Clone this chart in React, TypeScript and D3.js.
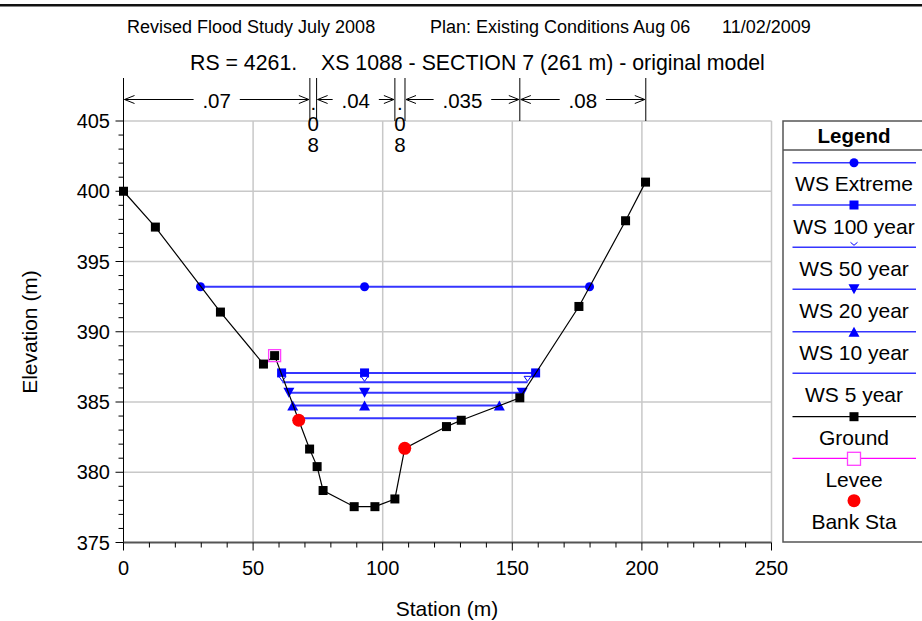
import React from "react";
import * as d3 from "d3";

const groundSta = [0, 12.3, 37.4, 54.0, 58.3, 67.6, 71.8, 74.7, 77.0, 89.0, 97.0, 104.7, 108.5, 124.6, 130.3, 152.9, 175.7, 193.7, 201.4];
const groundElev = [400.0, 397.45, 391.4, 387.7, 388.3, 383.7, 381.65, 380.4, 378.7, 377.55, 377.55, 378.1, 381.7, 383.25, 383.7, 385.3, 391.8, 397.9, 400.65];

const wsNames = ["WS Extreme", "WS 100 year", "WS 50 year", "WS 20 year", "WS 10 year", "WS 5 year"];
const wsElev = [393.2, 387.07, 386.4, 385.65, 384.75, 383.85];
const wsLeft = [29.7, 61.0, 61.3, 63.8, 65.3, 67.6];
const wsRight = [179.8, 159.0, 155.9, 153.8, 145.0, 130.3];
const wsMarker = ["circle", "square", "vopen", "tridown", "triup", "none"];
const wsMidSta = 93.0;

const bankSta = [67.6, 108.5];
const bankElev = [383.7, 381.7];
const leveeSta = [58.3];
const leveeElev = [388.3];

const nBreaks = [0, 71.9, 74.5, 104.7, 108.6, 152.9, 201.5];
const nValues = [".07", ".08", ".04", ".08", ".035", ".08"];

const xTicks = [0, 50, 100, 150, 200, 250];
const yTicks = [375, 380, 385, 390, 395, 400, 405];

const legendLabels = [...wsNames, "Ground", "Levee", "Bank Sta"];

const W = 922, H = 621;
const FONT = "'Liberation Sans', Arial, sans-serif";
const BLUE = "#3535ff";

function Marker({ type, x, y, color }: { type: string; x: number; y: number; color: string }) {
  if (type === "circle") return <circle cx={x} cy={y} r={4.5} fill={color} />;
  if (type === "square") return <rect x={x - 4.5} y={y - 4.5} width={9} height={9} fill={color} />;
  if (type === "tridown") return <path d={`M${x - 5.5},${y - 5} L${x + 5.5},${y - 5} L${x},${y + 5} Z`} fill={color} />;
  if (type === "triup") return <path d={`M${x - 5.5},${y + 5} L${x + 5.5},${y + 5} L${x},${y - 5} Z`} fill={color} />;
  if (type === "vopen") return <path d={`M${x - 3.5},${y - 6} L${x + 3.5},${y - 6} L${x},${y - 1} Z`} fill="white" stroke={color} strokeWidth={1} />;
  return null;
}

export default function App() {
  const x = d3.scaleLinear().domain([0, 250]).range([123.5, 771.5]);
  const y = d3.scaleLinear().domain([375, 405]).range([542.5, 121]);
  const groundLine = d3.line<number>().x((d, i) => x(groundSta[i])).y((d) => y(d));

  const xMinor = d3.range(0, 251, 10);
  const yMinor = d3.range(375, 406, 1);

  const nTop = 78, nArrowY = 99.5, plotTop = y(405);

  const nSegs = nValues.map((v, i) => {
    const x0 = x(nBreaks[i]), x1 = x(nBreaks[i + 1]);
    return { v, x0, x1, w: x1 - x0 };
  });

  const arrowHead = (px: number, py: number, dir: number) =>
    `M${px + dir * 10},${py - 4} L${px},${py} L${px + dir * 10},${py + 4}`;

  const legX0 = 792.5, legX1 = 916, legCx = 854;
  const legLineY = [162.7, 205, 247.3, 289.3, 331.7, 373.3, 416.7, 458.3, 500.7];

  return (
    <svg width={W} height={H} style={{ position: "fixed", left: 0, top: 0, background: "white" }} fontFamily={FONT}>
      <rect x={0} y={0} width={W} height={H} fill="white" />
      <rect x={0} y={4} width={W} height={2.5} fill="#111" />

      {/* Titles */}
      <g fontSize={18} fill="#000">
        <text x={127} y={33}>Revised Flood Study July 2008</text>
        <text x={430} y={33}>Plan: Existing Conditions Aug 06</text>
        <text x={722} y={33}>11/02/2009</text>
      </g>
      <g fontSize={21.3} fill="#000">
        <text x={190} y={70}>RS = 4261.</text>
        <text x={321} y={70}>XS 1088 - SECTION 7 (261 m) - original model</text>
      </g>

      {/* Grid */}
      <g stroke="#c8c8c8" strokeWidth={1.5}>
        {xTicks.slice(1).map((t) => (
          <line key={"gx" + t} x1={x(t)} x2={x(t)} y1={y(375)} y2={y(405)} />
        ))}
        {yTicks.slice(1).map((t) => (
          <line key={"gy" + t} x1={x(0)} x2={x(250)} y1={y(t)} y2={y(t)} />
        ))}
      </g>

      {/* Axes */}
      <g stroke="#000" strokeWidth={1}>
        <line x1={x(0)} x2={x(0)} y1={y(375)} y2={y(405)} />
        <line x1={x(0)} x2={x(250)} y1={y(375)} y2={y(375)} stroke="#555" strokeWidth={2} />
        {yMinor.map((t) => (
          <line key={"ym" + t} x1={x(0) - (t % 5 === 0 ? 8 : 5)} x2={x(0)} y1={y(t)} y2={y(t)} />
        ))}
        {xMinor.map((t) => (
          <line key={"xm" + t} x1={x(t)} x2={x(t)} y1={y(375)} y2={y(375) + (t % 50 === 0 ? 8 : 5)} />
        ))}
      </g>
      <g fontSize={20} fill="#000">
        {yTicks.map((t) => (
          <text key={"yl" + t} x={110} y={y(t) + 7} textAnchor="end">{t}</text>
        ))}
        {xTicks.map((t) => (
          <text key={"xl" + t} x={x(t)} y={575} textAnchor="middle">{t}</text>
        ))}
      </g>
      <text x={447} y={616} fontSize={21} textAnchor="middle">Station (m)</text>
      <text transform={`translate(37,332) rotate(-90)`} fontSize={21} textAnchor="middle">Elevation (m)</text>

      {/* Manning's n */}
      <g stroke="#000" strokeWidth={1} fill="none">
        {nBreaks.map((b, i) => (
          <line key={"nb" + i} x1={x(b)} x2={x(b)} y1={nTop} y2={plotTop} />
        ))}
        {nSegs.map((s, i) => {
          if (s.w < 20) return null;
          const tw = s.v.length * 11.4;
          const cx = (s.x0 + s.x1) / 2;
          const gap = tw / 2 + 6;
          return (
            <g key={"ns" + i}>
              <line x1={s.x0 + 1} x2={cx - gap} y1={nArrowY} y2={nArrowY} />
              <line x1={cx + gap} x2={s.x1 - 1} y1={nArrowY} y2={nArrowY} />
              <path d={arrowHead(s.x0 + 1, nArrowY, 1)} />
              <path d={arrowHead(s.x1 - 1, nArrowY, -1)} />
            </g>
          );
        })}
      </g>
      <g fontSize={20.5} fill="#000">
        {nSegs.map((s, i) => {
          const cx = (s.x0 + s.x1) / 2;
          if (s.w >= 20) return <text key={"nt" + i} x={cx} y={nArrowY + 8} textAnchor="middle">{s.v}</text>;
          return (
            <g key={"nt" + i}>
              {s.v.split("").map((c, j) => (
                <text key={j} x={cx} y={110 + j * 20.8} textAnchor="middle">{c}</text>
              ))}
            </g>
          );
        })}
      </g>

      {/* Water surfaces */}
      {wsElev.map((e, i) => (
        <g key={"ws" + i}>
          <line x1={x(wsLeft[i])} x2={x(wsRight[i])} y1={y(e)} y2={y(e)} stroke={BLUE} strokeWidth={2} />
          {[wsLeft[i], wsMidSta, wsRight[i]].map((s, j) => (
            <Marker key={j} type={wsMarker[i]} x={x(s)} y={y(e)} color="#0000ff" />
          ))}
        </g>
      ))}

      {/* Ground */}
      <path d={groundLine(groundElev) || ""} fill="none" stroke="#000" strokeWidth={1.2} />
      {groundSta.map((s, i) => (
        <rect key={"g" + i} x={x(s) - 4.5} y={y(groundElev[i]) - 4.5} width={9} height={9} fill="#000" />
      ))}

      {/* Levee */}
      {leveeSta.map((s, i) => (
        <rect key={"lv" + i} x={x(s) - 6} y={y(leveeElev[i]) - 6} width={12} height={12} fill="none" stroke="#ff40ff" strokeWidth={1.3} />
      ))}

      {/* Bank stations */}
      {bankSta.map((s, i) => (
        <circle key={"bk" + i} cx={x(s)} cy={y(bankElev[i])} r={6.5} fill="#ff0000" />
      ))}

      {/* Legend */}
      <rect x={783} y={121} width={160} height={421} fill="white" stroke="#555" strokeWidth={1.5} />
      <line x1={783} x2={922} y1={150} y2={150} stroke="#555" strokeWidth={1.5} />
      <text x={legCx} y={143} fontSize={20.5} fontWeight="bold" textAnchor="middle">Legend</text>
      {legendLabels.map((lab, i) => {
        const ly = legLineY[i];
        const isWS = i < 6;
        return (
          <g key={"lg" + i}>
            {isWS && <line x1={legX0} x2={legX1} y1={ly} y2={ly} stroke={BLUE} strokeWidth={1.5} />}
            {isWS && wsMarker[i] === "vopen" && (
              <path d={`M${legCx - 3.5},${ly - 5} L${legCx},${ly - 2} L${legCx + 3.5},${ly - 5}`} fill="none" stroke="#0000ff" strokeWidth={1} />
            )}
            {isWS && wsMarker[i] !== "vopen" && (
              <Marker type={wsMarker[i]} x={legCx} y={ly} color="#0000ff" />
            )}
            {i === 6 && (
              <>
                <line x1={legX0} x2={legX1} y1={ly} y2={ly} stroke="#000" strokeWidth={1.2} />
                <rect x={legCx - 4.5} y={ly - 4.5} width={9} height={9} fill="#000" />
              </>
            )}
            {i === 7 && (
              <>
                <line x1={legX0} x2={legX1} y1={ly} y2={ly} stroke="#ff00ff" strokeWidth={1.2} />
                <rect x={legCx - 6.5} y={ly - 6} width={13} height={13} fill="white" stroke="#ff40ff" strokeWidth={1.3} />
              </>
            )}
            {i === 8 && <circle cx={legCx} cy={ly} r={6.5} fill="#ff0000" />}
            <text x={legCx} y={ly + 28.5} fontSize={21} textAnchor="middle">{lab}</text>
          </g>
        );
      })}
    </svg>
  );
}
